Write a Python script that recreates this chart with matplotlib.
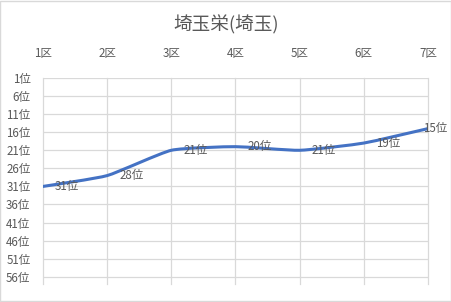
import matplotlib
matplotlib.use("Agg")
import matplotlib.pyplot as plt
from matplotlib.path import Path
from matplotlib.patches import PathPatch, Rectangle
import numpy as np

FONT = ["Noto Sans CJK JP", "DejaVu Sans"]
plt.rcParams["font.family"] = FONT

title = "埼玉栄(埼玉)"
sections = ["1区", "2区", "3区", "4区", "5区", "6区", "7区"]
ranks = [31, 28, 21, 20, 21, 19, 15]
rank_ticks = [1, 6, 11, 16, 21, 26, 31, 36, 41, 46, 51, 56]

TEXT = "#595959"
GRID = "#D9D9D9"
LINE = "#4472C4"

fig = plt.figure(figsize=(4.52, 3.02), dpi=100)
fig.patch.set_facecolor("white")
fig.add_artist(Rectangle((0.001, 0.004), 0.996, 0.994, transform=fig.transFigure,
                         fill=False, edgecolor=GRID, linewidth=1.0))

ax = fig.add_axes([43 / 452, 1 - 284 / 302, (428 - 43) / 452, (284 - 78) / 302])
x = np.arange(len(sections))
ax.set_xlim(0, len(sections) - 1)
ax.set_ylim(58, 1)

for s in ax.spines.values():
    s.set_visible(False)

# grid lines
for r in rank_ticks:
    ax.plot([0, len(sections) - 1], [r, r], color=GRID, lw=0.9, zorder=1)
for xi in x:
    ax.plot([xi, xi], [1, 58], color=GRID, lw=0.9, zorder=1, clip_on=False)

ax.xaxis.tick_top()
ax.set_xticks(x)
ax.set_xticklabels(sections)
ax.set_yticks(rank_ticks)
ax.set_yticklabels([f"{r}位" for r in rank_ticks])
ax.tick_params(length=0, colors=TEXT, labelsize=8.3)
ax.tick_params(axis="x", pad=13)
ax.tick_params(axis="y", pad=9)

# gently smoothed line through the ranks (cubic Bezier segments)
SMOOTH = 1 / 12
pts = np.column_stack([x, ranks]).astype(float)
n = len(pts)
verts = [pts[0]]
codes = [Path.MOVETO]
for i in range(n - 1):
    p0 = pts[i - 1] if i > 0 else pts[i]
    p1 = pts[i]
    p2 = pts[i + 1]
    p3 = pts[i + 2] if i + 2 < n else pts[i + 1]
    c1 = p1 + (p2 - p0) * SMOOTH
    c2 = p2 - (p3 - p1) * SMOOTH
    verts += [c1, c2, p2]
    codes += [Path.CURVE4] * 3
ax.add_patch(PathPatch(Path(verts, codes), facecolor="none", edgecolor=LINE,
                       lw=2.2, capstyle="round", joinstyle="round", zorder=3))

# data labels
for i, (xi, r) in enumerate(zip(x, ranks)):
    dx = 12 if i < n - 1 else -5
    ax.annotate(f"{r}位", (xi, r), xytext=(dx, 0), textcoords="offset pixels",
                ha="left", va="center", color=TEXT, fontsize=8.3, zorder=4,
                annotation_clip=False)

fig.text(0.5, 1 - 25 / 302, title, ha="center", va="center", color=TEXT, fontsize=13.4)

fig.savefig("out.png", dpi=100, facecolor="white")
